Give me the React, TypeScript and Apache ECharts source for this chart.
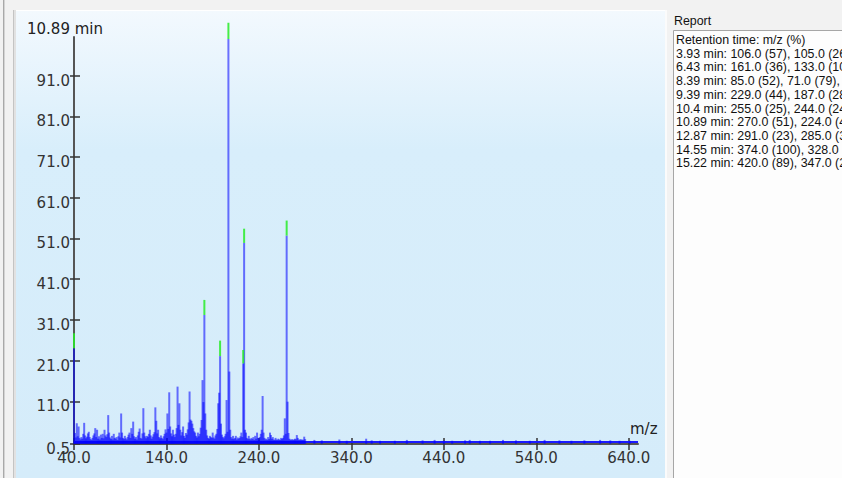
import React, { useEffect, useRef } from "react";
import * as echarts from "echarts";

// ---- Data ----
const spectrumMz: number[] = [
  40, 41, 42, 43, 44, 45, 46, 47, 48, 49, 50, 51, 52, 53, 54, 55, 56, 57, 58, 59,
  60, 61, 62, 63, 64, 65, 66, 67, 68, 69, 70, 71, 72, 73, 74, 75, 76, 77, 78, 79,
  80, 81, 82, 83, 84, 85, 86, 87, 88, 89, 90, 91, 92, 93, 94, 95, 96, 97, 98, 99,
  100, 101, 102, 103, 104, 105, 106, 107, 108, 109, 110, 111, 112, 113, 114, 115, 116, 117, 118, 119,
  120, 121, 122, 123, 124, 125, 126, 127, 128, 129, 130, 131, 132, 133, 134, 135, 136, 137, 138, 139,
  140, 141, 142, 143, 144, 145, 146, 147, 148, 149, 150, 151, 152, 153, 154, 155, 156, 157, 158, 159,
  160, 161, 162, 163, 164, 165, 166, 167, 168, 169, 170, 171, 172, 173, 174, 175, 176, 177, 178, 179,
  180, 181, 182, 183, 184, 185, 186, 187, 188, 189, 190, 191, 192, 193, 194, 195, 196, 197, 198, 199,
  200, 201, 202, 203, 204, 205, 206, 207, 208, 209, 210, 211, 212, 213, 214, 215, 216, 217, 218, 219,
  220, 221, 222, 223, 224, 225, 226, 227, 228, 229, 230, 231, 232, 233, 234, 235, 236, 237, 238, 239,
  240, 241, 242, 243, 244, 245, 246, 247, 248, 249, 250, 251, 252, 253, 254, 255, 256, 257, 258, 259,
  260, 261, 262, 263, 264, 265, 266, 267, 268, 269, 270, 271, 272, 273, 274, 275, 276, 277, 278, 279,
  280, 281, 282, 283, 284, 285, 286, 287, 288, 289, 290,
  300, 308, 327, 335, 356, 362, 371, 387, 400, 417, 430, 440, 449, 463, 468, 479, 490, 504,
  518, 533, 549, 565, 578, 592, 609, 620, 630, 641,
];

const spectrumIntensity: number[] = [
  24.0, 3.2, 2.1, 5.6, 2.4, 4.8, 2.0, 1.6, 2.2, 1.8, 3.0, 5.7, 2.6, 1.9, 2.3, 3.1, 3.5, 2.2, 1.7, 1.5,
  2.0, 2.6, 3.1, 4.4, 2.2, 4.0, 1.8, 2.4, 1.6, 2.8, 2.0, 3.0, 1.9, 4.0, 2.6, 2.2, 2.9, 7.6, 3.3, 2.1,
  1.7, 2.5, 1.6, 3.0, 2.0, 1.8, 2.2, 1.5, 2.4, 3.3, 2.1, 8.0, 3.3, 2.0, 1.7, 2.5, 1.9, 1.6, 2.2, 2.8,
  3.3, 2.0, 4.4, 3.0, 6.0, 2.4, 1.8, 2.2, 1.6, 2.6, 3.5, 4.3, 2.0, 1.8, 3.1, 9.3, 3.3, 2.4, 1.9, 2.5,
  2.2, 3.0, 4.0, 2.6, 1.8, 2.3, 2.9, 3.4, 9.5, 6.2, 3.1, 4.0, 2.2, 1.9, 2.6, 2.0, 1.7, 2.4, 3.0, 4.1,
  3.3, 8.0, 4.2, 13.2, 4.8, 3.1, 2.4, 4.0, 2.8, 2.2, 3.0, 4.4, 14.6, 5.2, 10.5, 4.0, 2.6, 3.4, 4.8, 2.5,
  2.0, 3.2, 2.8, 4.1, 5.8, 13.4, 6.5, 6.2, 5.5, 4.4, 3.6, 3.3, 2.5, 2.1, 3.3, 2.4, 3.0, 4.5, 6.4, 16.2,
  10.8, 32.2, 8.0, 4.0, 2.6, 2.0, 1.8, 2.5, 2.2, 2.0, 3.3, 2.1, 1.8, 2.6, 3.0, 4.2, 10.5, 13.1, 22.1, 5.5,
  2.8, 2.2, 1.9, 2.4, 3.0, 11.3, 3.5, 100.0, 18.3, 4.0, 2.2, 1.8, 2.5, 1.7, 2.0, 2.5, 1.6, 2.1, 1.8, 2.0,
  2.4, 3.3, 2.2, 20.3, 49.9, 4.0, 3.3, 2.0, 1.7, 2.5, 1.8, 1.6, 2.0, 1.7, 2.2, 1.5, 2.5, 1.8, 3.3, 2.0,
  1.6, 2.2, 3.0, 4.0, 12.3, 3.3, 2.0, 1.6, 1.8, 1.5, 2.2, 1.7, 3.3, 2.7, 1.8, 2.2, 1.6, 1.5, 2.0, 1.6,
  1.5, 1.8, 1.6, 1.5, 2.0, 1.7, 2.0, 2.6, 6.8, 3.0, 51.7, 10.9, 3.2, 1.8, 1.6, 1.5, 1.7, 1.5, 1.6, 1.8,
  1.6, 2.7, 2.0, 1.6, 1.5, 1.7, 1.5, 1.6, 1.5, 2.3, 1.7,
  1.5, 1.4, 1.6, 1.3, 1.8, 1.4, 1.3, 1.3, 1.5, 1.4, 1.5, 1.3, 1.3, 1.4, 1.5, 1.3, 1.3, 1.5,
  1.4, 1.3, 1.5, 1.4, 1.3, 1.4, 1.5, 1.4, 1.3, 1.3,
];

// Highlighted (green) tips of the labelled peaks
const labelMz: number[] = [40, 181, 198, 207, 223, 224, 270];
const labelBase: number[] = [24.0, 32.2, 22.1, 100.0, 20.3, 49.9, 51.7];
const labelTop: number[] = [27.7, 35.9, 25.9, 104.0, 23.6, 53.4, 55.4];

// Baseline of the spectrum
const baselineMz: number[] = [40, 650];
const baselineLevel: number[] = [1.0, 1.0];

const xTicks: number[] = [40, 140, 240, 340, 440, 540, 640];
const yTicks: number[] = [0.5, 11, 21, 31, 41, 51, 61, 71, 81, 91];

const scanTitle = "10.89 min";
const xName = "m/z";

const reportTitle = "Report";
const reportLines: string[] = [
  "Retention time: m/z (%)",
  "3.93 min: 106.0 (57), 105.0 (26)",
  "6.43 min: 161.0 (36), 133.0 (100)",
  "8.39 min: 85.0 (52), 71.0 (79), 70.0 (11)",
  "9.39 min: 229.0 (44), 187.0 (28)",
  "10.4 min: 255.0 (25), 244.0 (24)",
  "10.89 min: 270.0 (51), 224.0 (49)",
  "12.87 min: 291.0 (23), 285.0 (30)",
  "14.55 min: 374.0 (100), 328.0 (20)",
  "15.22 min: 420.0 (89), 347.0 (20)",
];

const AXIS_FONT = "'DejaVu Sans', sans-serif";
const REPORT_FONT = "'Liberation Sans', Arial, sans-serif";

export default function App() {
  const ref = useRef<HTMLDivElement>(null);

  useEffect(() => {
    if (!ref.current) return;
    const chart = echarts.init(ref.current, null, { renderer: "svg" });

    const sticks = spectrumMz.map((m, i) => [m, 0.5, spectrumIntensity[i]]);
    const tips = labelMz.map((m, i) => [m, labelBase[i], labelTop[i]]);
    const baseline = baselineMz.map((m, i) => [m, baselineLevel[i]]);

    const stickRenderer = (color: string, width: number) => (params: any, api: any) => {
      const x = api.value(0);
      const p0 = api.coord([x, api.value(1)]);
      const p1 = api.coord([x, api.value(2)]);
      return {
        type: "line",
        shape: { x1: p0[0], y1: p0[1], x2: p1[0], y2: p1[1] },
        style: { stroke: color, lineWidth: width },
      };
    };

    const axisLabelStyle = {
      fontFamily: AXIS_FONT,
      fontSize: 15,
      color: "#333",
    };

    const reportGraphics: any[] = reportLines.map((t, i) => ({
      type: "text",
      x: 676,
      y: 40 + i * 13.7,
      z: 10,
      style: {
        text: t,
        font: `12.4px ${REPORT_FONT}`,
        fill: "#111",
        verticalAlign: "middle",
        textAlign: "left",
      },
    }));

    chart.setOption({
      animation: false,
      backgroundColor: "#f2f2f2",
      grid: { left: 74, top: 37, right: 204, bottom: 34, containLabel: false },
      graphic: [
        // left frame lines
        { type: "rect", shape: { x: 3, y: 0, width: 1, height: 478 }, style: { fill: "#a9a9a9" }, z: -10 },
        { type: "rect", shape: { x: 4, y: 0, width: 1, height: 478 }, style: { fill: "#d4d4d4" }, z: -10 },
        { type: "rect", shape: { x: 13, y: 10, width: 1, height: 468 }, style: { fill: "#c4c4c4" }, z: -10 },
        { type: "rect", shape: { x: 14, y: 10, width: 2, height: 468 }, style: { fill: "#e2e2e2" }, z: -10 },
        // chart panel
        {
          type: "rect",
          shape: { x: 16, y: 10, width: 649, height: 468 },
          style: {
            fill: new echarts.graphic.LinearGradient(0, 0, 0, 1, [
              { offset: 0, color: "#f3f9fe" },
              { offset: 0.3, color: "#d8eefb" },
              { offset: 1, color: "#d5ecfa" },
            ]),
          },
          z: -10,
        },
        { type: "rect", shape: { x: 16, y: 10, width: 649, height: 1 }, style: { fill: "#ffffff" }, z: -9 },
        { type: "rect", shape: { x: 665, y: 10, width: 2, height: 468 }, style: { fill: "#fbfbfb" }, z: -9 },
        // report box
        {
          type: "rect",
          shape: { x: 673.5, y: 30.5, width: 200, height: 460 },
          style: { fill: "#fdfdfd", stroke: "#a6a6a6", lineWidth: 1 },
          z: -9,
        },
        {
          type: "text",
          x: 674,
          y: 21,
          z: 10,
          style: { text: reportTitle, font: `12.4px ${REPORT_FONT}`, fill: "#111", verticalAlign: "middle" },
        },
        ...reportGraphics,
        // axis titles
        {
          type: "text",
          x: 27,
          y: 29,
          z: 10,
          style: { text: scanTitle, font: `15px ${AXIS_FONT}`, fill: "#222", verticalAlign: "middle" },
        },
        {
          type: "text",
          x: 630,
          y: 429,
          z: 10,
          style: { text: xName, font: `15px ${AXIS_FONT}`, fill: "#222", verticalAlign: "middle" },
        },
      ],
      xAxis: [
        {
          type: "value",
          position: "bottom",
          min: 40,
          max: 650,
          splitLine: { show: false },
          axisLine: { show: true, lineStyle: { color: "#555", width: 2 } },
          axisTick: { show: true, inside: true, length: 6, customValues: xTicks, lineStyle: { color: "#333", width: 1.5 } },
          axisLabel: {
            show: true,
            customValues: xTicks,
            margin: 6,
            lineHeight: 15,
            ...axisLabelStyle,
            formatter: (v: number) => v.toFixed(1),
          },
        },
        {
          type: "value",
          position: "bottom",
          min: 40,
          max: 650,
          splitLine: { show: false },
          axisLine: { show: false },
          axisTick: { show: true, inside: false, length: 6, customValues: xTicks, lineStyle: { color: "#333", width: 1.5 } },
          axisLabel: { show: false },
        },
      ],
      yAxis: [
        {
          type: "value",
          position: "left",
          min: 0.5,
          max: 100.5,
          splitLine: { show: false },
          axisLine: { show: true, lineStyle: { color: "#555", width: 2 } },
          axisTick: { show: true, inside: true, length: 6, customValues: yTicks, lineStyle: { color: "#333", width: 1.5 } },
          axisLabel: {
            show: true,
            customValues: yTicks,
            margin: 4,
            verticalAlign: "top",
            lineHeight: 10,
            ...axisLabelStyle,
            formatter: (v: number) => v.toFixed(1),
          },
        },
        {
          type: "value",
          position: "left",
          min: 0.5,
          max: 100.5,
          splitLine: { show: false },
          axisLine: { show: false },
          axisTick: { show: true, inside: false, length: 4, customValues: yTicks, lineStyle: { color: "#333", width: 1.5 } },
          axisLabel: { show: false },
        },
      ],
      series: [
        {
          type: "line",
          name: "baseline",
          data: baseline,
          xAxisIndex: 0,
          yAxisIndex: 0,
          symbol: "none",
          lineStyle: { color: "#1a1aff", width: 2 },
          z: 3,
          silent: true,
        },
        {
          type: "custom",
          name: "spectrum",
          data: sticks,
          xAxisIndex: 0,
          yAxisIndex: 0,
          encode: { x: 0, y: [1, 2] },
          clip: false,
          renderItem: stickRenderer("rgba(0,0,255,0.55)", 2),
          z: 4,
        },
        {
          type: "custom",
          name: "labelled",
          data: tips,
          xAxisIndex: 0,
          yAxisIndex: 0,
          encode: { x: 0, y: [1, 2] },
          clip: false,
          renderItem: stickRenderer("rgba(40,235,40,0.85)", 2),
          z: 5,
        },
      ],
    });

    return () => chart.dispose();
  }, []);

  return (
    <div
      ref={ref}
      style={{ position: "fixed", left: 0, top: 0, width: 842, height: 478 }}
    />
  );
}
